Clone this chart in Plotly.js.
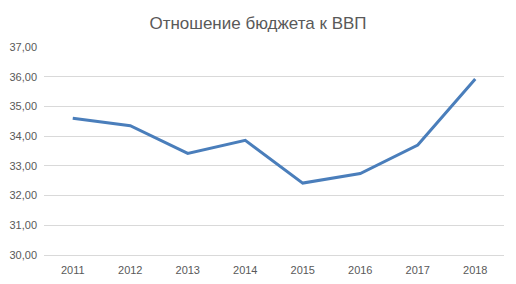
<!DOCTYPE html>
<html><head><meta charset="utf-8">
<script src="https://cdn.plot.ly/plotly-3.0.1.min.js"></script>
<style>html,body{margin:0;padding:0;background:#fff}#c{width:516px;height:284px}</style>
</head><body><div id="c"></div>
<script>
var years = ['2011','2012','2013','2014','2015','2016','2017','2018'];
var ratio = [34.60, 34.35, 33.42, 33.86, 32.42, 32.74, 33.70, 35.92];
var yTicks = [30,31,32,33,34,35,36,37];
var yTickText = ['30,00','31,00','32,00','33,00','34,00','35,00','36,00','37,00'];
var titleText = 'Отношение бюджета к ВВП';

Plotly.newPlot('c', [{
  x: years, y: ratio, type: 'scatter', mode: 'lines',
  line: {color: '#4A7EBB', width: 3}
}], {
  width: 516, height: 284,
  margin: {l: 44, r: 12, t: 47, b: 29},
  paper_bgcolor: '#fff', plot_bgcolor: '#fff',
  font: {family: 'Liberation Sans, Arial, sans-serif', size: 11, color: '#595959'},
  title: {text: titleText, x: 0.5, xanchor: 'center', y: 0.92, yanchor: 'middle',
          font: {family: 'Liberation Sans, Arial, sans-serif', size: 17, color: '#595959'}},
  showlegend: false,
  xaxis: {type: 'category', range: [-0.5, 7.5], showgrid: false, zeroline: false,
          showline: true, linecolor: '#d9d9d9', linewidth: 1, ticks: '',
          ticklabelstandoff: 5, fixedrange: true},
  yaxis: {range: [30, 37], tickvals: yTicks, ticktext: yTickText, showgrid: true,
          gridcolor: '#d9d9d9', gridwidth: 1, zeroline: false, showline: false, ticks: '',
          ticklabelstandoff: 6, fixedrange: true}
}, {displayModeBar: false, staticPlot: true});
</script></body></html>
